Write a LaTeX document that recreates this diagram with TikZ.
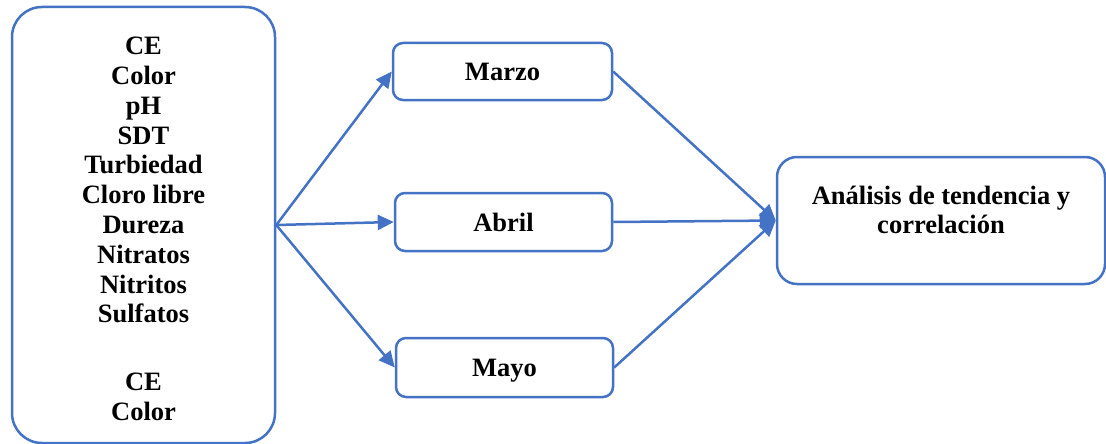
\documentclass[tikz,border=0pt]{standalone}
\usepackage{fontspec}
\setmainfont{Liberation Serif}
\usetikzlibrary{arrows.meta}
\definecolor{bl}{HTML}{4472C4}
\begin{document}
\begin{tikzpicture}[x=1pt,y=-1pt,
 box/.style={draw=bl, line width=2.5pt, fill=white, inner sep=0pt},
 lbl/.style={font=\fontsize{26.5}{29.8}\selectfont\bfseries, align=center},
 conn/.style={draw=bl, line width=2.5pt, -{Triangle[length=16pt,width=15pt]}}]
\useasboundingbox (0,0) rectangle (1106,444);
\node[box, lbl, rounded corners=30pt, minimum width=263pt, minimum height=436pt] (params) at (143.5,225)
 {\rule{0pt}{25.6pt}CE\\Color\\pH\\SDT\\Turbiedad\\Cloro libre\\Dureza\\Nitratos\\Nitritos\\Sulfatos\\[8.4pt]~\\CE\\Color};
\node[box, lbl, text depth=0pt, rounded corners=10pt, minimum width=219pt, minimum height=57pt] (m) at (502.5,71.5) {Marzo};
\node[box, lbl, text depth=0pt, rounded corners=10pt, minimum width=217pt, minimum height=58pt] (a) at (503.5,222) {Abril};
\node[box, lbl, text depth=0pt, rounded corners=10pt, minimum width=217pt, minimum height=59pt] (y) at (504.5,367.5) {Mayo};
\node[box, rounded corners=20pt, minimum width=328pt, minimum height=127pt] (r) at (941,220.5) {};
\node[lbl] (rt) at (941,210) {Análisis de tendencia y\\correlación};
\draw[conn] (params.east) -- (m.west);
\draw[conn] (params.east) -- (a.west);
\draw[conn] (params.east) -- (y.west);
\draw[conn] (m.east) -- (r.west);
\draw[conn] (a.east) -- (r.west);
\draw[conn] (y.east) -- (r.west);
\end{tikzpicture}
\end{document}
